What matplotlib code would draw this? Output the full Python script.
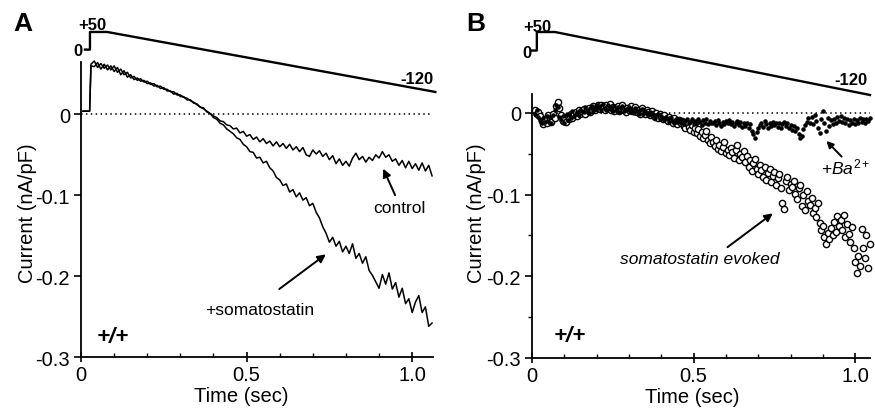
import numpy as np
import matplotlib.pyplot as plt
from matplotlib.ticker import MultipleLocator

plt.rcParams['font.family'] = ['Liberation Sans', 'DejaVu Sans']
plt.rcParams['axes.unicode_minus'] = False
plt.rcParams['mathtext.fontset'] = 'custom'
plt.rcParams['mathtext.rm'] = 'Liberation Sans'
plt.rcParams['mathtext.it'] = 'Liberation Sans:italic'

# ---- panel A: current traces (nA/pF), sampled every 10 ms from 0.03 s ----
pre_t = [0.006, 0.026]
pre_i = [0.004, 0.004]

control = [
    0.062, 0.066, 0.058, 0.063, 0.057, 0.061, 0.055, 0.060, 0.052, 0.056,
    0.049, 0.052, 0.045, 0.047, 0.042, 0.044, 0.040, 0.041, 0.037, 0.038,
    0.034, 0.035, 0.031, 0.031, 0.028, 0.028, 0.024, 0.024, 0.021, 0.020,
    0.017, 0.015, 0.012, 0.009, 0.007, 0.004, 0.001, -0.002, -0.004, -0.008,
    -0.009, -0.013, -0.014, -0.018, -0.017, -0.023, -0.021, -0.027, -0.025, -0.031,
    -0.028, -0.034, -0.030, -0.036, -0.033, -0.039, -0.034, -0.040, -0.036, -0.042,
    -0.037, -0.044, -0.040, -0.046, -0.041, -0.050, -0.052, -0.044, -0.049, -0.045,
    -0.052, -0.048, -0.056, -0.051, -0.061, -0.055, -0.063, -0.058, -0.064, -0.054,
    -0.048, -0.056, -0.052, -0.059, -0.053, -0.057, -0.050, -0.054, -0.046, -0.053,
    -0.050, -0.058, -0.055, -0.063, -0.057, -0.066, -0.058, -0.067, -0.061, -0.069,
    -0.060, -0.070, -0.063, -0.076,
]

somatostatin = [
    0.060, 0.059, 0.064, 0.056, 0.062, 0.055, 0.060, 0.053, 0.058, 0.049,
    0.054, 0.046, 0.049, 0.043, 0.045, 0.041, 0.042, 0.038, 0.039, 0.035,
    0.036, 0.032, 0.033, 0.029, 0.029, 0.025, 0.026, 0.022, 0.022, 0.018,
    0.018, 0.014, 0.013, 0.009, 0.008, 0.003, 0.001, -0.004, -0.006, -0.011,
    -0.013, -0.018, -0.021, -0.024, -0.029, -0.031, -0.037, -0.040, -0.046, -0.047,
    -0.054, -0.053, -0.060, -0.058, -0.066, -0.070, -0.078, -0.081, -0.088, -0.086,
    -0.096, -0.093, -0.102, -0.097, -0.106, -0.103, -0.113, -0.110, -0.121, -0.128,
    -0.139, -0.147, -0.158, -0.152, -0.163, -0.157, -0.170, -0.163, -0.172, -0.160,
    -0.178, -0.172, -0.184, -0.176, -0.193, -0.199, -0.207, -0.215, -0.198, -0.210,
    -0.196, -0.216, -0.208, -0.226, -0.215, -0.234, -0.228, -0.245, -0.232, -0.224,
    -0.245, -0.238, -0.262, -0.258,
]

# ---- panel B: currents (nA/pF), sampled every 5 ms from 0.01 s ----
evoked = [
    0.003, -0.002, 0.001, -0.004, -0.010, -0.014, -0.007, -0.012, -0.003, -0.008,
    -0.011, -0.002, -0.006, 0.008, 0.013, 0.006, -0.003, -0.010, -0.006, -0.011,
    -0.004, -0.008, -0.001, -0.006, -0.002, 0.001, -0.004, 0.003, -0.001, 0.002,
    0.005, -0.001, 0.003, 0.006, 0.001, 0.004, 0.008, 0.003, 0.006, 0.009,
    0.005, 0.010, 0.007, 0.003, 0.009, 0.006, 0.011, 0.004, 0.007, 0.002,
    0.006, 0.008, 0.002, 0.005, 0.009, 0.003, 0.001, 0.006, 0.004, 0.008,
    0.002, 0.005, 0.007, 0.001, 0.004, -0.001, 0.006, 0.002, -0.002, 0.003,
    0.001, -0.003, 0.002, -0.001, -0.005, 0.000, -0.006, -0.002, -0.004, -0.008,
    -0.003, -0.007, -0.010, -0.005, -0.008, -0.012, -0.006, -0.011, -0.014, -0.009,
    -0.013, -0.010, -0.016, -0.019, -0.012, -0.017, -0.021, -0.015, -0.023, -0.019,
    -0.025, -0.020, -0.028, -0.024, -0.031, -0.027, -0.022, -0.033, -0.037, -0.030,
    -0.036, -0.041, -0.033, -0.044, -0.039, -0.047, -0.042, -0.036, -0.049, -0.045,
    -0.052, -0.043, -0.048, -0.055, -0.046, -0.040, -0.058, -0.051, -0.054, -0.047,
    -0.060, -0.053, -0.066, -0.058, -0.071, -0.062, -0.057, -0.069, -0.075, -0.064,
    -0.070, -0.078, -0.066, -0.082, -0.074, -0.069, -0.085, -0.077, -0.072, -0.088,
    -0.080, -0.075, -0.092, -0.110, -0.118, -0.084, -0.079, -0.095, -0.087, -0.091,
    -0.083, -0.099, -0.106, -0.092, -0.088, -0.114, -0.101, -0.119, -0.096, -0.108,
    -0.113, -0.104, -0.122, -0.117, -0.128, -0.110, -0.135, -0.144, -0.139, -0.152,
    -0.160, -0.147, -0.155, -0.141, -0.150, -0.133, -0.146, -0.126, -0.138, -0.131,
    -0.143, -0.125, -0.152, -0.136, -0.148, -0.158, -0.140, -0.165, -0.182, -0.196,
    -0.175, -0.188, -0.142, -0.166, -0.178, -0.150, -0.190, -0.160,
]

barium = [
    -0.001, 0.004, -0.005, -0.009, -0.013, -0.006, -0.011, -0.004, -0.010, -0.005,
    -0.012, -0.003, 0.004, 0.010, 0.007, -0.005, -0.009, -0.004, -0.012, -0.003,
    -0.009, -0.001, -0.006, 0.002, -0.004, -0.002, 0.001, -0.003, 0.004, 0.002,
    0.001, 0.007, 0.003, 0.000, 0.006, 0.008, 0.002, 0.005, 0.010, 0.006,
    0.008, 0.004, 0.011, 0.006, 0.003, 0.009, 0.005, 0.007, 0.002, 0.008,
    0.004, 0.007, 0.001, 0.006, 0.008, 0.002, 0.005, 0.003, 0.007, 0.001,
    0.004, 0.000, 0.006, 0.002, -0.001, 0.003, 0.005, -0.002, 0.002, 0.000,
    -0.003, 0.001, -0.004, -0.001, -0.006, -0.003, -0.001, -0.007, -0.004, -0.006,
    -0.009, -0.005, -0.008, -0.011, -0.006, -0.010, -0.013, -0.008, -0.011, -0.007,
    -0.012, -0.009, -0.014, -0.010, -0.007, -0.013, -0.011, -0.008, -0.014, -0.010,
    -0.013, -0.008, -0.011, -0.015, -0.009, -0.012, -0.007, -0.014, -0.010, -0.012,
    -0.013, -0.010, -0.015, -0.009, -0.012, -0.016, -0.011, -0.014, -0.010, -0.013,
    -0.009, -0.014, -0.011, -0.016, -0.012, -0.010, -0.015, -0.011, -0.017, -0.013,
    -0.016, -0.012, -0.018, -0.014, -0.022, -0.026, -0.031, -0.024, -0.019, -0.015,
    -0.012, -0.017, -0.010, -0.014, -0.019, -0.013, -0.016, -0.011, -0.015, -0.012,
    -0.017, -0.013, -0.018, -0.014, -0.011, -0.016, -0.013, -0.019, -0.015, -0.021,
    -0.016, -0.022, -0.018, -0.026, -0.031, -0.028, -0.020, -0.015, -0.011, -0.006,
    -0.012, -0.005, -0.014, -0.003, -0.010, -0.019, -0.025, -0.008, 0.002, -0.013,
    -0.022, -0.006, -0.016, -0.009, -0.014, -0.007, -0.012, -0.005, -0.010, -0.004,
    -0.011, -0.006, -0.013, -0.008, -0.015, -0.009, -0.012, -0.007, -0.014, -0.009,
    -0.012, -0.006, -0.011, -0.008, -0.013, -0.007, -0.010, -0.006,
]

# voltage protocols (s, mV)
prot_a_t = [0.012, 0.027, 0.027, 0.079, 1.07]
prot_b_t = [0.0, 0.015, 0.015, 0.071, 1.046]
prot_v = [0, 0, 50, 50, -120]

yticks = [0, -0.1, -0.2, -0.3]
ytick_labels = ['0', '-0.1', '-0.2', '-0.3']
xticks = [0, 0.5, 1.0]
xtick_labels = ['0', '0.5', '1.0']

t_a = np.linspace(0.03, 1.06, len(control))
t_a2 = np.linspace(0.03, 1.06, len(somatostatin))
t_b = np.linspace(0.01, 1.045, len(evoked))
t_b2 = np.linspace(0.01, 1.045, len(barium))

fig = plt.figure(figsize=(8.75, 4.1), dpi=100)


def px(x, y):
    return x / 875, 1 - y / 410


def style(ax, xmax, ytop, minor_y):
    ax.set_xlim(0, xmax)
    ax.set_ylim(-0.3, ytop)
    for s in ['top', 'right']:
        ax.spines[s].set_visible(False)
    for s in ['left', 'bottom']:
        ax.spines[s].set_linewidth(1.3)
    ax.set_xticks(xticks)
    ax.set_xticklabels(xtick_labels)
    ax.set_yticks(yticks)
    ax.set_yticklabels(ytick_labels)
    ax.xaxis.set_minor_locator(MultipleLocator(0.1))
    if minor_y:
        ax.yaxis.set_minor_locator(MultipleLocator(0.05))
        ax.tick_params(axis='y', which='minor', direction='out', length=3, width=1)
    ax.tick_params(axis='x', which='major', direction='inout', length=7, width=1.2,
                   labelsize=14.5, pad=2)
    ax.tick_params(axis='x', which='minor', direction='in', length=3, width=1)
    ax.tick_params(axis='y', which='major', direction='out', length=5, width=1.2,
                   labelsize=14.5, pad=3)
    ax.axhline(0, color='k', lw=1.1, ls=(0, (1, 2.2)))
    ax.set_xlabel('Time (sec)', fontsize=14.5)
    ax.set_ylabel('Current (nA/pF)', fontsize=14.5)
    ax.xaxis.label.set_va('center')
    ax.yaxis.label.set_va('center')


# ---------------- panel A ----------------
axA = fig.add_axes([0.0926, 0.1268, 0.4023, 0.720])
style(axA, 1.063, 0.065, False)
axA.xaxis.set_label_coords(0.455, -0.131)
axA.yaxis.set_label_coords(-0.153, 0.49)
axA.plot(pre_t + list(t_a), pre_i + control, color='k', lw=1.1, clip_on=False)
axA.plot(pre_t + list(t_a2), pre_i + somatostatin, color='k', lw=1.1, clip_on=False)

axA.annotate('', xy=(0.909, -0.064), xytext=(0.952, -0.103),
             arrowprops=dict(arrowstyle='-|>', color='k', lw=1.4, mutation_scale=12))
axA.text(0.961, -0.1154, 'control', fontsize=12.5, ha='center', va='center')
axA.annotate('', xy=(0.746, -0.171), xytext=(0.592, -0.218),
             arrowprops=dict(arrowstyle='-|>', color='k', lw=1.4, mutation_scale=12))
axA.text(0.541, -0.241, '+somatostatin', fontsize=12.5, ha='center', va='center')
axA.text(0.097, -0.275, '+/+', fontsize=16, fontweight='bold', fontstyle='italic',
         ha='center', va='center')

pA = fig.add_axes([0.0926, 0.7561, 0.4023, 0.1893])
pA.set_xlim(0, 1.063)
pA.set_ylim(-140, 80)
pA.axis('off')
pA.plot(prot_a_t, prot_v, color='k', lw=1.7, clip_on=False)

# ---------------- panel B ----------------
axB = fig.add_axes([0.608, 0.1244, 0.3863, 0.6439])
style(axB, 1.046, 0.023, True)
axB.xaxis.set_label_coords(0.474, -0.144)
axB.yaxis.set_label_coords(-0.163, 0.553)
axB.plot(t_b, evoked, ls='none', marker='o', ms=4.5, mfc='white', mec='k', mew=1.0,
         clip_on=False)
axB.plot(t_b2, barium, ls='none', marker='.', ms=4.5, color='k', clip_on=False)

axB.annotate('', xy=(0.752, -0.121), xytext=(0.598, -0.1665),
             arrowprops=dict(arrowstyle='-|>', color='k', lw=1.4, mutation_scale=12))
axB.text(0.52, -0.178, 'somatostatin evoked', fontsize=12.5, fontstyle='italic',
         ha='center', va='center')
axB.annotate('', xy=(0.905, -0.032), xytext=(0.964, -0.056),
             arrowprops=dict(arrowstyle='-|>', color='k', lw=1.4, mutation_scale=10))
axB.text(0.893, -0.066, r'$\mathit{+Ba}^{\mathit{2+}}$', fontsize=12.5,
         ha='left', va='center', clip_on=False)
axB.text(0.118, -0.273, '+/+', fontsize=16, fontweight='bold', fontstyle='italic',
         ha='center', va='center')

pB = fig.add_axes([0.608, 0.7478, 0.3863, 0.1988])
pB.set_xlim(0, 1.046)
pB.set_ylim(-140, 80)
pB.axis('off')
pB.plot(prot_b_t, prot_v, color='k', lw=1.7, clip_on=False)

# panel letters and protocol labels
fig.text(*px(23, 24), 'A', fontsize=19, fontweight='bold', ha='center', va='center')
fig.text(*px(476, 24), 'B', fontsize=19, fontweight='bold', ha='center', va='center')
fig.text(*px(92, 26), '+50', fontsize=12, fontweight='bold', ha='center', va='center')
fig.text(*px(78, 52), '0', fontsize=12, fontweight='bold', ha='center', va='center')
fig.text(*px(417, 80), '-120', fontsize=12, fontweight='bold', ha='center', va='center')
fig.text(*px(537, 27), '+50', fontsize=12, fontweight='bold', ha='center', va='center')
fig.text(*px(527, 53), '0', fontsize=12, fontweight='bold', ha='center', va='center')
fig.text(*px(851, 81), '-120', fontsize=12, fontweight='bold', ha='center', va='center')

fig.savefig('out.png', dpi=100)
